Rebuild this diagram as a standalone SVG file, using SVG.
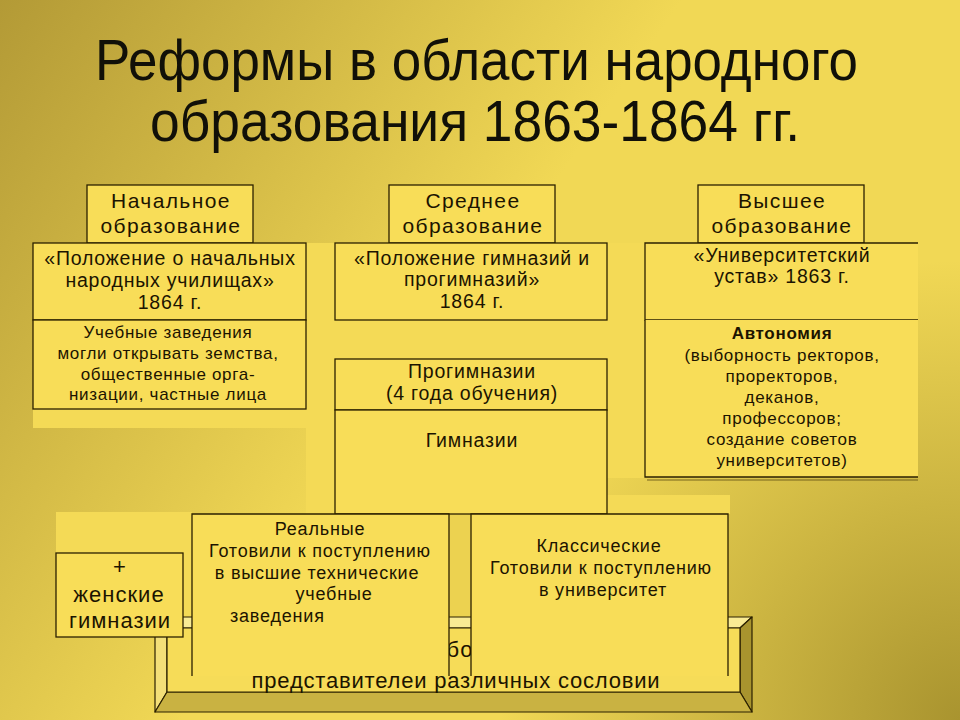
<svg xmlns="http://www.w3.org/2000/svg" width="960" height="720" viewBox="0 0 960 720">
<defs>
  <linearGradient id="bgLin" gradientUnits="userSpaceOnUse" x1="0" y1="0" x2="460" y2="320">
    <stop offset="0" stop-color="#b39a36"/>
    <stop offset="1" stop-color="#f1d855"/>
  </linearGradient>
  <radialGradient id="bgDark" gradientUnits="userSpaceOnUse" cx="960" cy="720" r="460">
    <stop offset="0" stop-color="#6e5c10" stop-opacity="0.55"/>
    <stop offset="1" stop-color="#6e5c10" stop-opacity="0"/>
  </radialGradient>
  <style>
    .box{fill:#f8dd58;stroke:#2b2100;stroke-width:1.3}
    .fill{fill:#f8dd58}
    .ln{fill:none;stroke:#2b2100;stroke-width:1.3}
    .ghost{fill:#f4da56}
    .bev{stroke:#2b2100;stroke-width:1.2;stroke-linejoin:round}
    text{font-family:"Liberation Sans",Arial,sans-serif;fill:#1c1400;text-anchor:middle}
    .h{font-size:21px;letter-spacing:1.4px}
    .m{font-size:19.5px;letter-spacing:0.8px}
    .s{font-size:17px;letter-spacing:0.7px}
    .b{font-size:18px;letter-spacing:0.8px}
    .w{font-size:22px;letter-spacing:1px}
    .t{font-size:58px;text-anchor:start;fill:#111008}
  </style>
</defs>

<g id="background">
  <rect x="0" y="0" width="960" height="720" fill="url(#bgLin)"/>
  <rect x="0" y="0" width="960" height="720" fill="url(#bgDark)"/>
  <rect class="ghost" x="33" y="243" width="885" height="185"/>
  <rect class="ghost" x="306" y="428" width="29" height="86"/>
  <rect class="ghost" x="607" y="428" width="38" height="50"/>
  <rect class="ghost" x="607" y="495" width="123" height="19"/>
  <rect class="ghost" x="56" y="512" width="136" height="105"/>
  <rect x="449" y="514" width="22" height="103" fill="#ecd250"/>
</g>

<g id="title">
  <text class="t" x="95" y="80" textLength="763" lengthAdjust="spacingAndGlyphs">Реформы в области народного</text>
  <text class="t" x="150" y="141" textLength="650" lengthAdjust="spacingAndGlyphs">образования 1863-1864 гг.</text>
</g>

<g id="connectors"></g>

<g id="primary-header">
  <rect class="box" x="87" y="185" width="166" height="58"/>
  <text class="h" x="171" y="208">Начальное</text>
  <text class="h" x="171" y="233">образование</text>
</g>
<g id="secondary-header">
  <rect class="box" x="389" y="185" width="166" height="58"/>
  <text class="h" x="473" y="208">Среднее</text>
  <text class="h" x="473" y="233">образование</text>
</g>
<g id="higher-header">
  <rect class="box" x="698" y="185" width="166" height="58"/>
  <text class="h" x="782" y="208">Высшее</text>
  <text class="h" x="782" y="233">образование</text>
</g>

<g id="primary-law">
  <rect class="box" x="33" y="243" width="273" height="77"/>
  <text class="m" x="170" y="265">«Положение о начальных</text>
  <text class="m" x="170" y="287">народных училищах»</text>
  <text class="m" x="170" y="309">1864 г.</text>
</g>
<g id="primary-details">
  <rect class="box" x="33" y="320" width="273" height="89"/>
  <text class="s" x="168" y="338">Учебные заведения</text>
  <text class="s" x="168" y="359">могли открывать земства,</text>
  <text class="s" x="168" y="380">общественные орга-</text>
  <text class="s" x="168" y="400">низации, частные лица</text>
</g>

<g id="secondary-law">
  <rect class="box" x="335" y="243" width="272" height="77"/>
  <text class="m" x="472" y="265">«Положение гимназий и</text>
  <text class="m" x="472" y="286">прогимназий»</text>
  <text class="m" x="472" y="308">1864 г.</text>
</g>
<g id="progymnasia">
  <rect class="box" x="335" y="359" width="272" height="51"/>
  <text class="m" x="472" y="378">Прогимназии</text>
  <text class="m" x="472" y="400">(4 года обучения)</text>
</g>
<g id="gymnasia">
  <rect class="box" x="335" y="410" width="272" height="104"/>
  <text class="m" x="472" y="447">Гимназии</text>
</g>

<g id="higher-law">
  <rect class="fill" x="645" y="243" width="273" height="77"/>
  <path class="ln" d="M918,243 H645 V320 H918"/>
  <text class="m" x="782" y="262">«Университетский</text>
  <text class="m" x="782" y="283">устав» 1863 г.</text>
</g>
<g id="higher-details">
  <rect class="fill" x="645" y="320" width="273" height="157"/>
  <path class="ln" d="M645,320 V477 H918"/>
  <path d="M647,480 H918" stroke="#6b5a18" stroke-width="1.5" opacity="0.6"/>
  <text class="s" x="782" y="339" font-weight="bold">Автономия</text>
  <text class="s" x="782" y="361">(выборность ректоров,</text>
  <text class="s" x="782" y="382">проректоров,</text>
  <text class="s" x="782" y="403">деканов,</text>
  <text class="s" x="782" y="424">профессоров;</text>
  <text class="s" x="782" y="445">создание советов</text>
  <text class="s" x="782" y="466">университетов)</text>
</g>

<g id="access-panel">
  <polygon points="155,617 752,617 740,628 167,628" fill="#f9eb94" class="bev"/>
  <polygon points="155,617 167,628 167,692 155,712" fill="#f3df78" class="bev"/>
  <polygon points="752,617 752,712 740,692 740,628" fill="#a8942e" class="bev"/>
  <polygon points="155,712 752,712 740,692 167,692" fill="#c9b242" class="bev"/>
  <rect x="167" y="628" width="573" height="64" fill="#f6dc58" class="bev"/>
  <text class="w" x="460" y="657">бо</text>
</g>

<g id="womens-gymnasia">
  <rect class="box" x="56" y="553" width="127" height="84"/>
  <text class="w" x="120" y="574">+</text>
  <text class="w" x="119" y="602">женские</text>
  <text class="w" x="120" y="628">гимназии</text>
</g>

<g id="real-schools">
  <rect class="fill" x="192" y="514" width="257" height="162"/>
  <path class="ln" d="M192,676 V514 H449 V676"/>
  <text class="b" x="320" y="535">Реальные</text>
  <text class="b" x="320" y="557">Готовили к поступлению</text>
  <text class="b" x="317" y="579">в высшие технические</text>
  <text class="b" x="334" y="600">учебные</text>
  <text class="b" x="230" y="622" style="text-anchor:start">заведения</text>
</g>

<g id="classical-gymnasia">
  <rect class="fill" x="471" y="514" width="257" height="162"/>
  <path class="ln" d="M471,676 V514 H728 V676"/>
  <text class="b" x="599" y="552">Классические</text>
  <text class="b" x="601" y="574">Готовили к поступлению</text>
  <text class="b" x="603" y="596">в университет</text>
</g>

<g id="access-text">
  <text class="w" x="456" y="688" style="letter-spacing:0.8px">представителеи различных сословии</text>
</g>
</svg>
